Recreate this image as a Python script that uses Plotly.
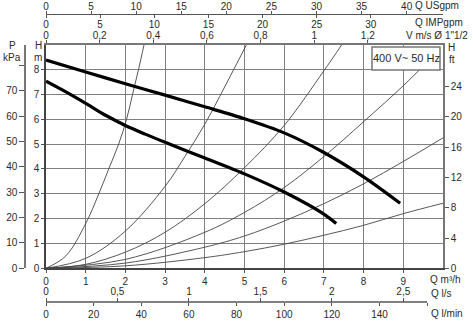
import plotly.graph_objects as go

# ---------------- data ----------------
q_ticks = [0, 1, 2, 3, 4, 5, 6, 7, 8, 9]            # Q m3/h
h_ticks = [0, 1, 2, 3, 4, 5, 6, 7, 8]               # H m
p_ticks = [0, 10, 20, 30, 40, 50, 60, 70, 80]       # P kPa
p_labels = ["0", "10", "20", "30", "40", "50", "60", "70", ""]
ft_ticks = [0, 4, 8, 12, 16, 20, 24]                # H ft
usgpm_ticks = [0, 5, 10, 15, 20, 25, 30, 35, 40]
impgpm_ticks = [0, 5, 10, 15, 20, 25, 30]
v_ticks = [0, 0.2, 0.4, 0.6, 0.8, 1.0, 1.2]
v_labels = ["0", "0,2", "0,4", "0,6", "0,8", "1", "1,2"]
ls_ticks = [0, 0.5, 1.0, 1.5, 2.0, 2.5]
ls_labels = ["0", "0,5", "1", "1,5", "2", "2,5"]
lmin_ticks = [0, 20, 40, 60, 80, 100, 120, 140, 160]
lmin_labels = ["0", "20", "40", "60", "80", "100", "120", "140", ""]

# pump curves (thick)
pump_hi_q = [0, 1, 2, 3, 4, 5, 6, 7, 8, 8.92]
pump_hi_h = [8.38, 7.9, 7.43, 6.97, 6.5, 6.02, 5.45, 4.66, 3.68, 2.62]
pump_lo_q = [0, 0.5, 1, 1.5, 2, 2.5, 3, 4, 5, 6, 7, 7.31]
pump_lo_h = [7.53, 7.1, 6.64, 6.16, 5.75, 5.4, 5.07, 4.44, 3.8, 3.07, 2.18, 1.8]

# system curves (thin)
sys_a_q = [0, 0.5, 1.0, 1.33, 1.58, 1.83, 2.03, 2.18, 2.33, 2.47]
sys_a_h = [0, 0.5, 1.8, 3.0, 4.0, 5.0, 6.0, 7.0, 8.0, 9.0]
sys_b_q = [0, 1, 2, 3, 3.5, 4, 4.5, 5.05]
sys_b_h = [0, 0.4, 1.5, 3.3, 4.5, 5.8, 7.3, 9.0]
sys_c_q = [0, 1, 2, 3, 4, 5, 6, 7, 7.45]
sys_c_h = [0, 0.16, 0.65, 1.45, 2.6, 4.05, 5.75, 7.95, 9.0]
sys_d_q = [0, 2, 4, 5, 6, 7, 8, 9, 9.6]
sys_d_h = [0, 0.36, 1.45, 2.25, 3.25, 4.5, 5.9, 7.35, 8.3]
sys_e_q = [0, 2, 4, 5, 6, 7, 8, 9, 10]
sys_e_h = [0, 0.21, 0.85, 1.3, 1.9, 2.6, 3.4, 4.3, 5.25]
sys_f_q = [0, 2, 4, 5, 6, 7, 8, 9, 10]
sys_f_h = [0, 0.1, 0.43, 0.67, 0.97, 1.33, 1.73, 2.2, 2.62]

# ---------------- layout helpers ----------------
W, HGT = 473, 323
def px(x): return x / W
def py(y): return 1 - y / HGT

Q_MAX, H_MAX = 10, 9
KPA_PER_M = 9.80665
FT_PER_M = 1 / 0.3048
M3H_PER_USGPM = 0.2271247
M3H_PER_IMPGPM = 0.272765
M3H_PER_MS = 6.755
M3H_PER_LS = 3.6
M3H_PER_LMIN = 0.06

FONT = "Liberation Sans, Arial, sans-serif"
TXT = "#2a2a2a"
GRID = "#808080"
FS = 10

fig = go.Figure()

thin = dict(color="#444", width=0.9, shape="spline", smoothing=1.0)
for qs, hs in [(sys_a_q, sys_a_h), (sys_b_q, sys_b_h), (sys_c_q, sys_c_h),
               (sys_d_q, sys_d_h), (sys_e_q, sys_e_h), (sys_f_q, sys_f_h)]:
    fig.add_trace(go.Scatter(x=qs, y=hs, mode="lines", line=thin, hoverinfo="skip"))

thick = dict(color="black", width=3.2, shape="spline", smoothing=0.8)
fig.add_trace(go.Scatter(x=pump_hi_q, y=pump_hi_h, mode="lines", line=thick, hoverinfo="skip"))
fig.add_trace(go.Scatter(x=pump_lo_q, y=pump_lo_h, mode="lines", line=thick, hoverinfo="skip"))

# dummy traces so every extra axis is drawn
for xa, ya in [("x2", "y"), ("x3", "y"), ("x4", "y"), ("x5", "y"), ("x6", "y"), ("x", "y2"), ("x", "y3")]:
    fig.add_trace(go.Scatter(x=[None], y=[None], xaxis=xa, yaxis=ya, mode="markers",
                             marker=dict(opacity=0), hoverinfo="skip"))

tickfont = dict(family=FONT, size=FS, color=TXT)
common = dict(showgrid=False, zeroline=False, ticks="outside", tickfont=tickfont,
              tickcolor="#555", fixedrange=True, automargin=False)

fig.update_layout(
    width=W, height=HGT, margin=dict(l=0, r=0, t=0, b=0, autoexpand=False),
    paper_bgcolor="white", plot_bgcolor="white", showlegend=False,
    font=dict(family=FONT, size=FS, color=TXT),
    xaxis=dict(domain=[px(46), px(443)], range=[0, Q_MAX], tickvals=q_ticks,
               ticks="outside", ticklen=3, tickcolor="#555", tickfont=tickfont,
               showgrid=True, gridcolor=GRID, gridwidth=1.2, zeroline=False,
               showline=True, linecolor="#444", linewidth=1.5, anchor="y",
               fixedrange=True, automargin=False),
    yaxis=dict(domain=[py(268.3), py(44.7)], range=[0, H_MAX], tickvals=h_ticks,
               ticks="outside", ticklen=3, tickcolor="#555", tickfont=tickfont,
               showgrid=True, gridcolor=GRID, gridwidth=1.2, zeroline=False,
               showline=True, linecolor="#444", linewidth=1.5, anchor="x",
               fixedrange=True, automargin=False),
    yaxis2=dict(common, overlaying="y", anchor="free", position=px(25), side="left",
                range=[0, H_MAX * KPA_PER_M], tickvals=p_ticks, ticktext=p_labels,
                ticklen=5, showline=True, linecolor="#777", linewidth=1.5),
    yaxis3=dict(common, overlaying="y", anchor="x", side="right",
                range=[0, H_MAX * FT_PER_M], tickvals=ft_ticks, ticklen=4,
                showline=True, linecolor="#777", linewidth=1.5),
    xaxis2=dict(common, overlaying="x", anchor="y", side="top",
                range=[0, Q_MAX / M3H_PER_MS], tickvals=v_ticks, ticktext=v_labels,
                ticklen=3, showline=True, linecolor="#777", linewidth=1.5,
                ticklabelstandoff=-3),
    xaxis3=dict(common, overlaying="x", anchor="free", position=py(14), side="top",
                range=[0, Q_MAX / M3H_PER_USGPM], tickvals=usgpm_ticks, ticklen=3,
                showline=True, linecolor="#555", linewidth=1.3, ticklabelstandoff=-3),
    xaxis4=dict(common, overlaying="x", anchor="free", position=py(14), side="bottom",
                range=[0, Q_MAX / M3H_PER_IMPGPM], tickvals=impgpm_ticks, ticklen=3,
                showline=False, ticklabelstandoff=-2),
    xaxis5=dict(common, overlaying="x", anchor="free", position=py(302), side="top",
                range=[0, Q_MAX / M3H_PER_LS], tickvals=ls_ticks, ticktext=ls_labels,
                ticklen=4, showline=False, ticklabelstandoff=-1),
    xaxis6=dict(common, overlaying="x", anchor="free", position=py(302), side="bottom",
                range=[0, Q_MAX / M3H_PER_LMIN], tickvals=lmin_ticks, ticktext=lmin_labels,
                ticklen=3, showline=False),
)

# bottom unit line (ends at the last l/min tick)
fig.add_shape(type="line", xref="x6", yref="paper", x0=0, x1=lmin_ticks[-1],
              y0=py(302), y1=py(302), line=dict(color="#555", width=1.3))

# legend-like box
fig.add_shape(type="rect", xref="paper", yref="paper", x0=px(372), x1=px(440),
              y0=py(70), y1=py(47), fillcolor="white", line=dict(color="#777", width=1.5),
              layer="above")

def ann(text, x, y, xanchor="left", size=FS):
    fig.add_annotation(text=text, xref="paper", yref="paper", x=px(x), y=py(y),
                       xanchor=xanchor, yanchor="middle", showarrow=False,
                       font=dict(family=FONT, size=size, color=TXT))

ann("400 V~ 50 Hz", 406, 58.5, "center", 11)
ann("P", 12, 45, "center")
ann("kPa", 12, 58, "center")
ann("H", 38, 45, "center")
ann("m", 38, 58, "center")
ann("H", 451, 47.5, "center")
ann("ft", 452, 59, "center")
ann("Q USgpm", 413, 6)
ann("Q IMPgpm", 413, 22)
ann("V m/s Ø 1\"1/2", 404, 35.5)
ann("Q m³/h", 428, 279.5)
ann("Q l/s", 429, 293)
ann("Q l/min", 429, 313)

fig.write_html("out.html", config={"displayModeBar": False},
               post_script="document.body.style.margin='0';document.body.style.overflow='hidden';")
